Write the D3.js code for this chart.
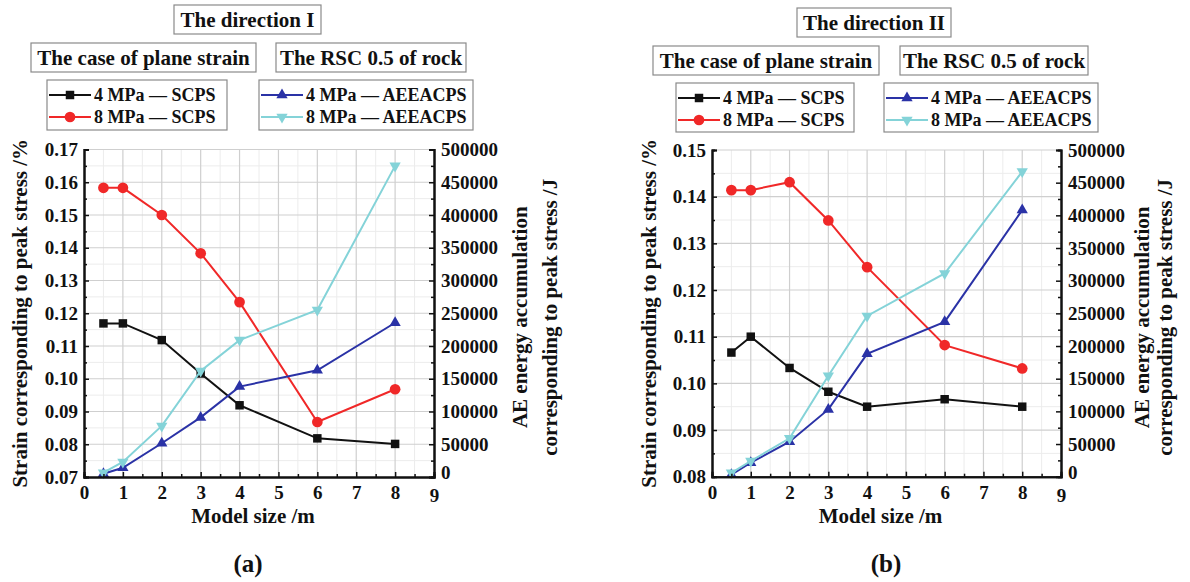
<!DOCTYPE html>
<html>
<head>
<meta charset="utf-8">
<script src="https://cdn.jsdelivr.net/npm/d3@7"></script>
<style>
  body { margin: 0; background: #fff; }
  svg { display: block; }
</style>
</head>
<body>
<svg id="chart" width="1190" height="582"></svg>
<script>
// x values (model size, m)
var modelSize = [0.5, 1, 2, 3, 4, 6, 8];
var xTicks = [0, 1, 2, 3, 4, 5, 6, 7, 8, 9];

// direction I
var strainI_4 = [0.1169, 0.1169, 0.1118, 0.1016, 0.0919, 0.0818, 0.0801];
var strainI_8 = [0.1583, 0.1583, 0.1500, 0.1383, 0.1234, 0.0868, 0.0968];
var energyI_4 = [5000, 14000, 51500, 91000, 138000, 163000, 235500];
var energyI_8 = [6500, 23000, 78000, 162000, 209000, 255000, 475000];
var strainTicksI = [0.07, 0.08, 0.09, 0.10, 0.11, 0.12, 0.13, 0.14, 0.15, 0.16, 0.17];

// direction II
var strainII_4 = [0.1066, 0.1100, 0.1033, 0.0982, 0.0950, 0.0966, 0.0950];
var strainII_8 = [0.1414, 0.1414, 0.1431, 0.1349, 0.1249, 0.1082, 0.1032];
var energyII_4 = [3000, 21400, 53500, 103000, 188000, 237000, 408000];
var energyII_8 = [6000, 24000, 58700, 154500, 246000, 311000, 467000];
var strainTicksII = [0.08, 0.09, 0.10, 0.11, 0.12, 0.13, 0.14, 0.15];

var energyTicks = [0, 50000, 100000, 150000, 200000, 250000, 300000, 350000, 400000, 450000, 500000];

var seriesNames = ["4 MPa \u2014 SCPS", "8 MPa \u2014 SCPS", "4 MPa \u2014 AEEACPS", "8 MPa \u2014 AEEACPS"];
var seriesColors = ["#111111", "#f02828", "#2a32a6", "#84d3d8"];

var svg = d3.select("#chart");

function marker(sel, kind, color) {
  var path;
  if (kind == 0) path = d3.symbol().type(d3.symbolSquare).size(72)();
  else if (kind == 1) path = d3.symbol().type(d3.symbolCircle).size(90)();
  else path = d3.symbol().type(d3.symbolTriangle).size(55)();
  sel.append("path")
    .attr("d", path)
    .attr("fill", color)
    .attr("transform", function (d) {
      return "translate(" + d[0] + "," + d[1] + ")" + (kind == 3 ? " rotate(180)" : "");
    });
}

function drawPanel(p) {
  var g = svg.append("g");
  var x = d3.scaleLinear().domain([0, 9]).range([p.left, p.right]);
  var yL = d3.scaleLinear().domain(d3.extent(p.strainTicks)).range([p.bottom, p.top]);
  var yR = d3.scaleLinear().domain(d3.extent(energyTicks)).range([p.bottom, p.top]);

  var step = p.strainTicks[1] - p.strainTicks[0];
  var minorY = p.strainTicks.slice(0, -1).map(function (d) { return d + step / 2; });
  var minorX = xTicks.slice(0, -1).map(function (d) { return d + 0.5; });
  var minorR = energyTicks.slice(0, -1).map(function (d) { return d + 25000; });

  // grid, minor first
  g.append("g").selectAll("line").data(minorX).enter().append("line")
    .attr("x1", x).attr("x2", x).attr("y1", p.top).attr("y2", p.bottom)
    .attr("stroke", "#ececec").attr("stroke-width", 1);
  g.append("g").selectAll("line").data(minorY).enter().append("line")
    .attr("x1", p.left).attr("x2", p.right).attr("y1", yL).attr("y2", yL)
    .attr("stroke", "#ececec").attr("stroke-width", 1);
  g.append("g").selectAll("line").data(xTicks.slice(1, -1)).enter().append("line")
    .attr("x1", x).attr("x2", x).attr("y1", p.top).attr("y2", p.bottom)
    .attr("stroke", "#cfcfcf").attr("stroke-width", 1.2);
  g.append("g").selectAll("line").data(p.strainTicks.slice(1)).enter().append("line")
    .attr("x1", p.left).attr("x2", p.right).attr("y1", yL).attr("y2", yL)
    .attr("stroke", "#cfcfcf").attr("stroke-width", 1.2);

  // series
  var all = [
    { v: p.s4, y: yL }, { v: p.s8, y: yL },
    { v: p.e4, y: yR }, { v: p.e8, y: yR }
  ];
  var line = d3.line();
  all.forEach(function (s, i) {
    var pts = modelSize.map(function (m, j) { return [x(m), s.y(s.v[j])]; });
    g.append("path").attr("d", line(pts)).attr("fill", "none")
      .attr("stroke", seriesColors[i]).attr("stroke-width", 2);
    var ms = g.append("g").selectAll("g").data(pts).enter().append("g");
    marker(ms, i, seriesColors[i]);
  });

  // axes (ticks point inward)
  var ax = g.append("g").attr("transform", "translate(0," + p.bottom + ")")
    .call(d3.axisBottom(x).tickValues(xTicks).tickSize(-5).tickPadding(6).tickFormat(d3.format("d")));
  g.append("g").attr("transform", "translate(0," + p.bottom + ")")
    .call(d3.axisBottom(x).tickValues(minorX).tickSize(-3).tickFormat(""));
  var al = g.append("g").attr("transform", "translate(" + p.left + ",0)")
    .call(d3.axisLeft(yL).tickValues(p.strainTicks).tickSize(-5).tickPadding(6).tickFormat(d3.format(".2f")));
  g.append("g").attr("transform", "translate(" + p.left + ",0)")
    .call(d3.axisLeft(yL).tickValues(minorY).tickSize(-3).tickFormat(""));
  var ar = g.append("g").attr("transform", "translate(" + p.right + ",0)")
    .call(d3.axisRight(yR).tickValues(energyTicks).tickSize(-5).tickPadding(7).tickFormat(d3.format("d")));
  g.append("g").attr("transform", "translate(" + p.right + ",0)")
    .call(d3.axisRight(yR).tickValues(minorR).tickSize(-3).tickFormat(""));

  g.selectAll(".domain").attr("stroke", "#111").attr("stroke-width", 2);
  g.selectAll(".tick line").attr("stroke", "#111").attr("stroke-width", 1.5);
  g.selectAll(".tick text").attr("font-size", 19).attr("fill", "#111");
  ax.selectAll(".tick text").attr("dy", "0.85em");
  ar.selectAll(".tick text").filter(function (d) { return d == 0; }).attr("dy", "0.1em");
  ax.selectAll(".tick text").filter(function (d) { return d == 9; }).attr("dy", "1em");

  // axis titles
  g.append("text").attr("x", (p.left + p.right) / 2 - 6).attr("y", p.bottom + 46)
    .attr("text-anchor", "middle").attr("font-size", 21).text("Model size /m");
  g.append("text").attr("transform", "translate(" + p.leftTitleX + "," + ((p.top + p.bottom) / 2) + ") rotate(-90)")
    .attr("text-anchor", "middle").attr("font-size", 21).text("Strain corresponding to peak stress /%");
  var rt = g.append("text").attr("transform", "translate(" + p.rightTitleX + "," + ((p.top + p.bottom) / 2 + 4) + ") rotate(-90)")
    .attr("text-anchor", "middle").attr("font-size", 21);
  rt.append("tspan").attr("x", 0).attr("dy", 0).text("AE energy accumulation");
  rt.append("tspan").attr("x", 0).attr("dy", p.rightTitleGap).text("corresponding to peak stress /J");

  g.append("text").attr("x", p.panelLabelX).attr("y", 572).attr("text-anchor", "middle")
    .attr("font-size", 25).text(p.panelLabel);

  // title boxes
  p.boxes.forEach(function (b) {
    g.append("rect").attr("x", b[0]).attr("y", b[1]).attr("width", b[2]).attr("height", b[3])
      .attr("fill", "#fff").attr("stroke", "#8a8a8a").attr("stroke-width", 1.2);
    g.append("text").attr("x", b[0] + b[2] / 2).attr("y", b[1] + b[3] / 2).attr("dy", "0.35em")
      .attr("text-anchor", "middle").attr("font-size", 21).text(b[4]);
  });

  // legends
  p.legends.forEach(function (L, k) {
    g.append("rect").attr("x", L.x).attr("y", L.y).attr("width", L.w).attr("height", L.h)
      .attr("fill", "#fff").attr("stroke", "#8a8a8a").attr("stroke-width", 1.2);
    [0, 1].forEach(function (r) {
      var idx = k * 2 + r;
      var cy = L.y + 15 + r * 22;
      g.append("line").attr("x1", L.x + 2).attr("x2", L.x + 44).attr("y1", cy).attr("y2", cy)
        .attr("stroke", seriesColors[idx]).attr("stroke-width", 2);
      var ms = g.append("g").selectAll("g").data([[L.x + 23, cy]]).enter().append("g");
      marker(ms, idx, seriesColors[idx]);
      g.append("text").attr("x", L.x + 47).attr("y", cy).attr("dy", "0.35em")
        .attr("font-size", 18).text(seriesNames[idx]);
    });
  });
}

drawPanel({
  left: 84, right: 434, top: 149.5, bottom: 477,
  strainTicks: strainTicksI, s4: strainI_4, s8: strainI_8, e4: energyI_4, e8: energyI_8,
  leftTitleX: 27, rightTitleX: 527, rightTitleGap: 30,
  panelLabel: "(a)", panelLabelX: 248,
  boxes: [[174, 5, 147, 29, "The direction I"], [31, 43, 225, 29, "The case of plane strain"], [276, 43, 190, 29, "The RSC 0.5 of rock"]],
  legends: [{ x: 47, y: 80, w: 180, h: 50 }, { x: 259, y: 80, w: 214, h: 50 }]
});

drawPanel({
  left: 712, right: 1061, top: 150, bottom: 476.7,
  strainTicks: strainTicksII, s4: strainII_4, s8: strainII_8, e4: energyII_4, e8: energyII_8,
  leftTitleX: 656, rightTitleX: 1149, rightTitleGap: 23,
  panelLabel: "(b)", panelLabelX: 886,
  boxes: [[797, 8, 154, 29, "The direction II"], [653, 46, 226, 29, "The case of plane strain"], [900, 46, 188, 29, "The RSC 0.5 of rock"]],
  legends: [{ x: 676, y: 83, w: 178, h: 49 }, { x: 884, y: 83, w: 214, h: 49 }]
});

// one font for every label
svg.selectAll("text")
  .attr("font-family", "Liberation Serif")
  .attr("font-weight", "bold")
  .attr("fill", "#111");
svg.selectAll("g").attr("font-family", null);
</script>
</body>
</html>
